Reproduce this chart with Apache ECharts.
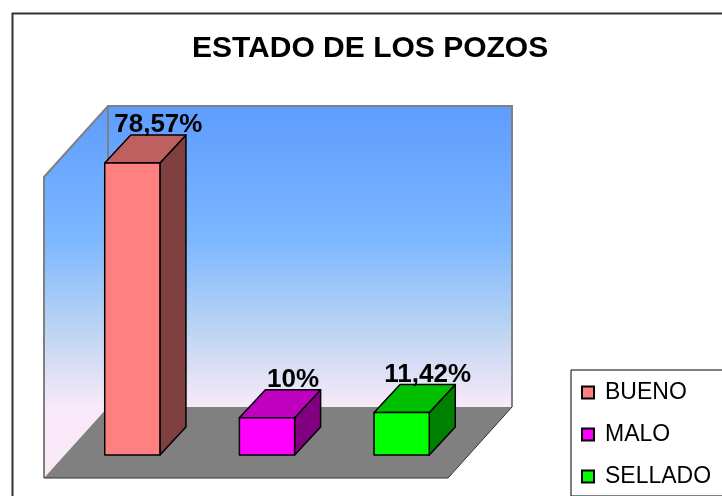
<!DOCTYPE html>
<html>
<head>
<meta charset="utf-8">
<script src="https://cdn.jsdelivr.net/npm/echarts@6.0.0/dist/echarts.min.js"></script>
<style>
  html, body { margin: 0; padding: 0; background: #fff; }
  #chart { width: 722px; height: 496px; }
</style>
</head>
<body>
<div id="chart"></div>
<script>
// datos del grafico
const categories = ['BUENO', 'MALO', 'SELLADO']
const values = [78.57, 10, 11.42]
const valueLabels = ['78,57%', '10%', '11,42%']

// colores de cada cara: frente, arriba, lado
const faceColors = [
  ['#FF8080', '#BF6060', '#804040'],
  ['#FF00FF', '#BF00BF', '#800080'],
  ['#00FF00', '#00BF00', '#008000']
]

const BAR_DEPTH = [26, -28]   // profundidad de la barra
const BACK = [43, -48]        // del plano de barras a la pared del fondo
const FRONT = [-21, 23]       // del plano de barras al borde del piso

const chart = echarts.init(document.getElementById('chart'))

function add(p, d) {
  return [p[0] + d[0], p[1] + d[1]]
}

function renderBar(params, api) {
  const i = api.value(0)
  const base = api.coord([i, 0])
  const top = api.coord([i, api.value(1)])
  const bw = api.size([1, 0])[0] * 0.41
  const l = base[0] - bw / 2
  const r = base[0] + bw / 2
  const c = faceColors[i]
  const stroke = { stroke: '#000', lineWidth: 1.5, lineJoin: 'round' }
  const tl = [l, top[1]], tr = [r, top[1]], br = [r, base[1]]
  return {
    type: 'group',
    children: [
      { type: 'polygon', shape: { points: [tr, br, add(br, BAR_DEPTH), add(tr, BAR_DEPTH)] },
        style: Object.assign({ fill: c[2] }, stroke) },
      { type: 'polygon', shape: { points: [tl, tr, add(tr, BAR_DEPTH), add(tl, BAR_DEPTH)] },
        style: Object.assign({ fill: c[1] }, stroke) },
      { type: 'rect', shape: { x: l, y: top[1], width: bw, height: base[1] - top[1] },
        style: Object.assign({ fill: c[0] }, stroke) },
      { type: 'text', style: {
          text: valueLabels[i], x: base[0] + BAR_DEPTH[0], y: top[1] + BAR_DEPTH[1] + 3,
          align: 'center', verticalAlign: 'bottom',
          font: 'bold 26px "Liberation Sans", Arial, sans-serif', fill: '#000' } }
    ]
  }
}

function renderWalls(params, api) {
  const cs = params.coordSys
  const x = cs.x, y = cs.y, w = cs.width, h = cs.height
  const bTL = add([x, y], BACK), bTR = add([x + w, y], BACK)
  const bBL = add([x, y + h], BACK), bBR = add([x + w, y + h], BACK)
  const fTL = add([x, y], FRONT), fBL = add([x, y + h], FRONT), fBR = add([x + w, y + h], FRONT)
  const grad = new echarts.graphic.LinearGradient(0, bTL[1], 0, bBL[1], [
    { offset: 0, color: '#5E9CFF' },
    { offset: 0.45, color: '#7DB8FF' },
    { offset: 0.75, color: '#BDD5F2' },
    { offset: 1, color: '#F9E9F8' }
  ], true)
  const edge = { stroke: '#808080', lineWidth: 2 }
  return {
    type: 'group',
    children: [
      { type: 'polygon', shape: { points: [fTL, bTL, bBL, fBL] }, style: { fill: grad } },
      { type: 'polygon', shape: { points: [bTL, bTR, bBR, bBL] }, style: { fill: grad } },
      { type: 'polyline', shape: { points: [fBL, fTL, bTL, bTR, bBR] }, style: Object.assign({ fill: null }, edge) },
      { type: 'line', shape: { x1: bTL[0], y1: bTL[1], x2: bBL[0], y2: bBL[1] }, style: edge },
      { type: 'polygon', shape: { points: [fBL, fBR, bBR, bBL] }, style: { fill: '#808080' } },
      { type: 'polyline', shape: { points: [fBL, fBR, bBR] }, style: { stroke: '#303030', lineWidth: 1, fill: null } }
    ]
  }
}

const barSeries = categories.map((name, i) => ({
  name: name,
  type: 'custom',
  renderItem: renderBar,
  itemStyle: { color: faceColors[i][0], borderColor: '#000', borderWidth: 1 },
  data: [[i, values[i]]],
  z: 3
}))

const option = {
  animation: false,
  graphic: [
    { type: 'rect', left: 10, top: 11, shape: { width: 760, height: 520 },
      style: { fill: null, stroke: '#333', lineWidth: 2 }, silent: true }
  ],
  title: {
    text: 'ESTADO DE LOS POZOS',
    left: 192,
    top: 34,
    padding: 0,
    textStyle: { fontFamily: '"Liberation Sans", Arial, sans-serif', fontSize: 30, fontWeight: 'bold', color: '#000' }
  },
  legend: {
    data: categories,
    orient: 'vertical',
    left: 571,
    top: 370,
    padding: [11, 40, 8, 10],
    itemGap: 19,
    itemWidth: 12,
    itemHeight: 12,
    icon: 'rect',
    backgroundColor: '#fff',
    borderColor: '#000',
    borderWidth: 1,
    textStyle: { fontFamily: '"Liberation Sans", Arial, sans-serif', fontSize: 23, lineHeight: 22, color: '#000', padding: [0, 0, 0, 6] }
  },
  grid: { left: 65, right: 253, top: 154, bottom: 41 },
  xAxis: { type: 'category', data: categories, show: false },
  yAxis: { type: 'value', min: 0, max: 81, show: false },
  series: [
    { name: 'paredes', type: 'custom', renderItem: renderWalls, data: [[0, 0]], silent: true, z: 1 }
  ].concat(barSeries)
}

chart.setOption(option)
</script>
</body>
</html>
